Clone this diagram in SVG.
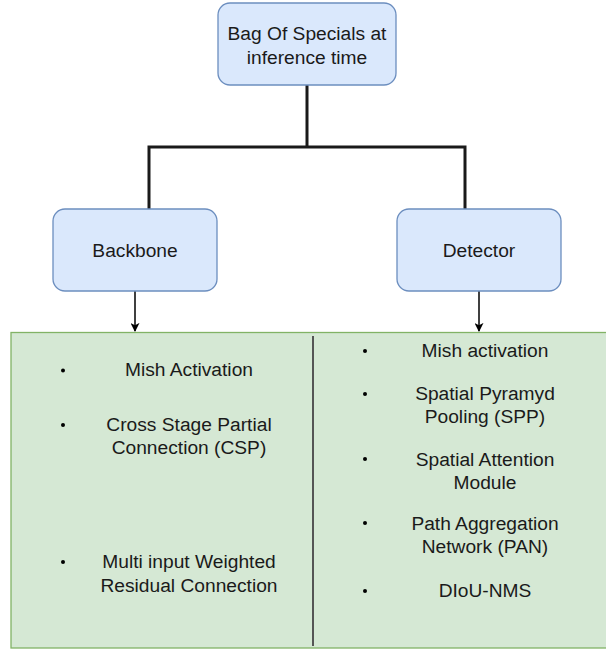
<svg xmlns="http://www.w3.org/2000/svg" width="606" height="652" viewBox="0 0 606 652">
<defs>
<style>
.box{fill:#dae8fc;stroke:#6c8ebf;stroke-width:1.3}
.panel{fill:#d5e8d4;stroke:#82b366;stroke-width:1.3}
text{font-family:"Liberation Sans",Arial,sans-serif;font-size:19.2px;fill:#1a1a1a;text-anchor:middle}
.tree{fill:none;stroke:#1a1a1a;stroke-width:3}
.arr{fill:none;stroke:#000;stroke-width:1.5}
.dot{fill:#000}
</style>
<marker id="ah" viewBox="0 0 10 10" refX="9" refY="5" markerWidth="9" markerHeight="9" markerUnits="userSpaceOnUse" orient="auto">
<path d="M0,0 L10,5 L0,10 L2.5,5 Z" fill="#000"/>
</marker>
</defs>
<g id="panel">
<rect class="panel" x="11" y="332.5" width="600" height="315.5"/>
<line x1="313" y1="336" x2="313" y2="646" stroke="#555" stroke-width="2"/>
</g>
<g id="connectors">
<path class="tree" d="M307,85 V147 M149,209 V147 H465 V209"/>
<line class="arr" x1="135" y1="291" x2="135" y2="331" marker-end="url(#ah)"/>
<line class="arr" x1="479" y1="291" x2="479" y2="331" marker-end="url(#ah)"/>
</g>
<g id="root">
<rect class="box" x="218" y="3" width="178" height="82" rx="12"/>
<text x="307" y="40">Bag Of Specials at</text>
<text x="307" y="64">inference time</text>
</g>
<g id="backbone">
<rect class="box" x="53" y="209" width="164" height="82" rx="12"/>
<text x="135" y="257">Backbone</text>
</g>
<g id="detector">
<rect class="box" x="397" y="209" width="164" height="82" rx="12"/>
<text x="479" y="257">Detector</text>
</g>
<g id="backbone-list">
<circle class="dot" cx="63" cy="370.5" r="2"/>
<text x="189" y="376">Mish Activation</text>
<circle class="dot" cx="63" cy="425" r="2"/>
<text x="189" y="431">Cross Stage Partial</text>
<text x="189" y="454">Connection (CSP)</text>
<circle class="dot" cx="63" cy="562" r="2"/>
<text x="189" y="568">Multi input Weighted</text>
<text x="189" y="592">Residual Connection</text>
</g>
<g id="detector-list">
<circle class="dot" cx="365" cy="351" r="2"/>
<text x="485" y="357">Mish activation</text>
<circle class="dot" cx="365" cy="394" r="2"/>
<text x="485" y="400">Spatial Pyramyd</text>
<text x="485" y="423">Pooling (SPP)</text>
<circle class="dot" cx="365" cy="459" r="2"/>
<text x="485" y="466">Spatial Attention</text>
<text x="485" y="489">Module</text>
<circle class="dot" cx="365" cy="523" r="2"/>
<text x="485" y="530">Path Aggregation</text>
<text x="485" y="553">Network (PAN)</text>
<circle class="dot" cx="365" cy="591" r="2"/>
<text x="485" y="597">DIoU-NMS</text>
</g>
</svg>
